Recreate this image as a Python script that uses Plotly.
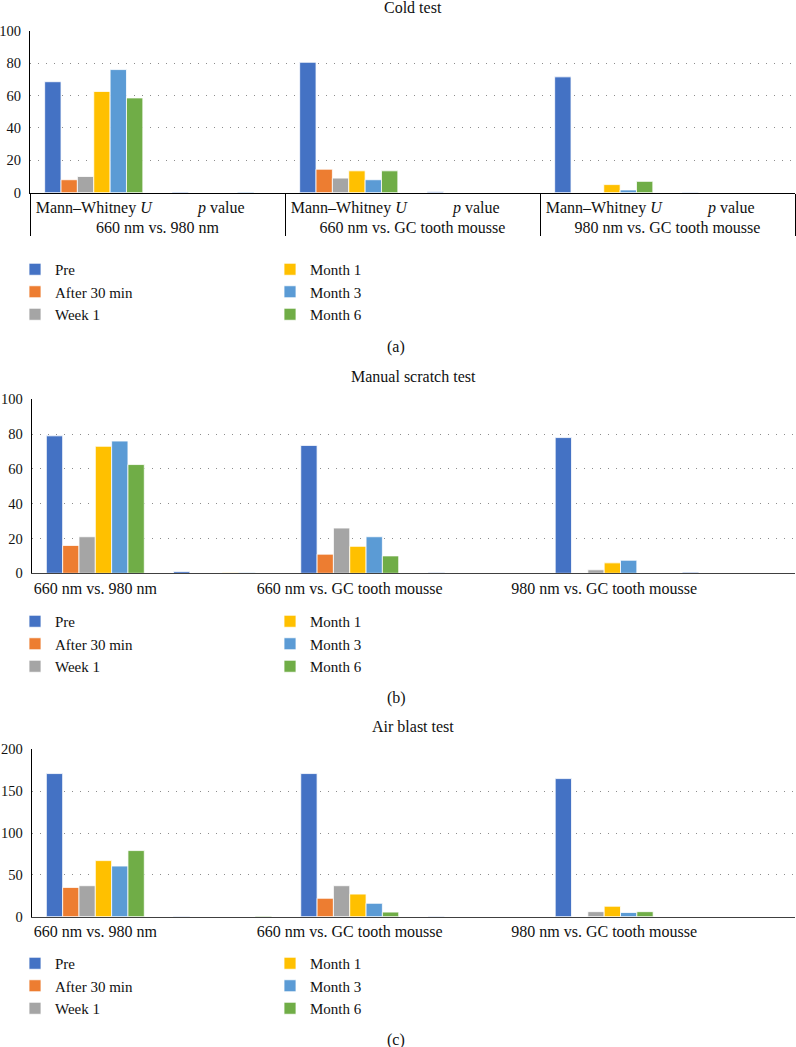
import plotly.graph_objects as go

# ---------------- data ----------------
series = ["Pre", "After 30 min", "Week 1", "Month 1", "Month 3", "Month 6"]
colors = ["#4472C4", "#ED7D31", "#A5A5A5", "#FFC000", "#5B9BD5", "#70AD47"]
comparisons = ["660 nm vs. 980 nm", "660 nm vs. GC tooth mousse", "980 nm vs. GC tooth mousse"]
stats = ["Mann\u2013Whitney <i>U</i>", "<i>p</i> value"]
panel_titles = ["Cold test", "Manual scratch test", "Air blast test"]
panel_tags = ["(a)", "(b)", "(c)"]

# order of values: [comp1 U, comp1 p, comp2 U, comp2 p, comp3 U, comp3 p]
cold_pre = [68.5, 0.45, 80.5, 0.6, 71.5, 0.3]
cold_after30 = [8.0, 0.0, 14.5, 0.0, 0.0, 0.0]
cold_week1 = [10.0, 0.0, 9.0, 0.0, 0.0, 0.0]
cold_month1 = [62.5, 0.0, 13.5, 0.0, 5.0, 0.0]
cold_month3 = [76.0, 0.5, 8.0, 0.0, 1.7, 0.0]
cold_month6 = [58.5, 0.0, 13.5, 0.0, 7.0, 0.0]

scratch_pre = [79.0, 1.0, 73.5, 0.4, 78.0, 0.6]
scratch_after30 = [16.0, 0.0, 11.0, 0.0, 0.0, 0.0]
scratch_week1 = [21.0, 0.0, 26.0, 0.0, 2.0, 0.0]
scratch_month1 = [73.0, 0.3, 15.5, 0.0, 6.0, 0.0]
scratch_month3 = [76.0, 0.5, 21.0, 0.0, 7.5, 0.0]
scratch_month6 = [62.5, 0.2, 10.0, 0.0, 0.0, 0.0]

air_pre = [171.0, 0.5, 171.0, 0.5, 165.0, 0.0]
air_after30 = [35.0, 0.0, 22.0, 0.0, 0.0, 0.0]
air_week1 = [37.0, 0.0, 37.0, 0.0, 6.0, 0.0]
air_month1 = [67.0, 0.0, 27.0, 0.0, 12.5, 0.0]
air_month3 = [60.5, 0.0, 16.0, 0.0, 5.0, 0.0]
air_month6 = [79.0, 0.8, 5.5, 0.0, 6.0, 0.0]

panels = [
    [cold_pre, cold_after30, cold_week1, cold_month1, cold_month3, cold_month6],
    [scratch_pre, scratch_after30, scratch_week1, scratch_month1, scratch_month3, scratch_month6],
    [air_pre, air_after30, air_week1, air_month1, air_month3, air_month6],
]
y_ranges = [[0, 100], [0, 100], [0, 200]]
y_dticks = [20, 20, 50]

# ---------------- layout helpers ----------------
W, H = 796, 1047
FONT = "Liberation Serif"
FS = 16
YFS = 14.5
LFS = 15


def py(px):
    return 1 - px / H


def pxx(px):
    return px / W


# plot area pixel boxes (top, bottom, left, right)
boxes = [(30.7, 192.7, 30.0, 795.0), (399.3, 573.3, 31.7, 795.0), (749.3, 916.7, 31.7, 795.0)]
title_y = [7, 376, 726]
tag_y = [347, 698, 1040]
legend_top = [253, 605, 947]

outer = [c for c in comparisons for _ in stats]
inner = [s for _ in comparisons for s in stats]
flat_cats = [f"{c}|{i}" for c, i in zip(outer, range(len(outer)))]

fig = go.Figure()
layout = dict(
    width=W, height=H,
    margin=dict(l=0, r=0, t=0, b=0),
    paper_bgcolor="white", plot_bgcolor="white",
    font=dict(family=FONT, size=FS, color="#111111"),
    barmode="group", bargap=0.23, bargroupgap=0.0,
    showlegend=True,
    annotations=[],
)

for p in range(3):
    ax = "" if p == 0 else str(p + 1)
    xref, yref = "x" + ax, "y" + ax
    leg_a = "legend" if p == 0 else f"legend{2 * p + 1}"
    leg_b = f"legend{2 * p + 2}"
    if p == 0:
        xdata = [outer, inner]
    else:
        xdata = flat_cats
    for k, name in enumerate(series):
        fig.add_trace(go.Bar(
            x=xdata, y=panels[p][k], name=name,
            marker=dict(color=colors[k], line=dict(color="white", width=0.8)),
            xaxis=xref, yaxis=yref,
            legend=leg_a if k < 3 else leg_b,
            showlegend=True,
        ))
    top, bot, left, right = boxes[p]
    xa = dict(
        domain=[pxx(left), pxx(right)], anchor=yref,
        showline=True, linecolor="#000000" if p == 0 else "#404040", linewidth=1,
        showgrid=False, ticks="", automargin=False,
        tickfont=dict(family=FONT, size=FS, color="#111111"),
        fixedrange=True,
    )
    if p == 0:
        xa.update(type="multicategory", showdividers=True, dividercolor="#000000", dividerwidth=1)
    else:
        xa.update(type="category", categoryorder="array", categoryarray=flat_cats,
                  tickmode="array", tickvals=flat_cats[::2], ticktext=comparisons)
    ya = dict(
        domain=[py(bot), py(top)], anchor=xref,
        range=y_ranges[p], dtick=y_dticks[p], tick0=0,
        showline=True, linecolor="#000000", linewidth=1,
        showgrid=True, gridcolor="#8c8c8c", gridwidth=1, griddash="1px,7px",
        zeroline=False, ticks="", ticklabelstandoff=5, automargin=False,
        tickfont=dict(family=FONT, size=YFS, color="#111111"),
        fixedrange=True,
    )
    layout["xaxis" + ax] = xa
    layout["yaxis" + ax] = ya

    # legends (two columns of three entries each)
    for lname, lx in [(leg_a, 15), (leg_b, 270)]:
        layout[lname] = dict(
            x=pxx(lx), y=py(legend_top[p]), xanchor="left", yanchor="top",
            orientation="v", bgcolor="rgba(0,0,0,0)", borderwidth=0,
            font=dict(family=FONT, size=LFS, color="#111111"),
            itemclick=False, itemdoubleclick=False,
        )

    layout["annotations"].append(dict(
        text=panel_titles[p], x=pxx((left + right) / 2), y=py(title_y[p]),
        xref="paper", yref="paper", showarrow=False, xanchor="center", yanchor="middle",
        font=dict(family=FONT, size=FS, color="#111111"),
    ))
    layout["annotations"].append(dict(
        text=panel_tags[p], x=pxx(396), y=py(tag_y[p]),
        xref="paper", yref="paper", showarrow=False, xanchor="center", yanchor="middle",
        font=dict(family=FONT, size=FS, color="#111111"),
    ))

fig.update_layout(**layout)
fig.write_html("out.html", config={"displayModeBar": False},
               post_script="document.body.style.margin='0px';")
